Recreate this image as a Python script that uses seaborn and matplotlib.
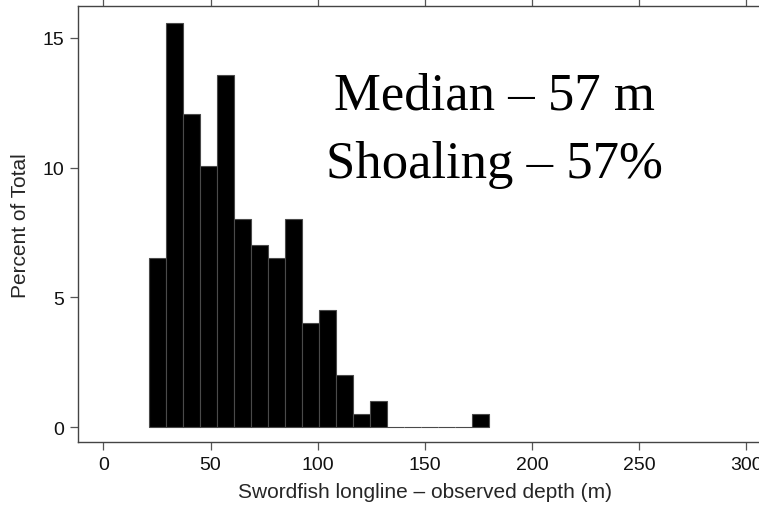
import numpy as np
import pandas as pd
import matplotlib
matplotlib.use("Agg")
import matplotlib.pyplot as plt
import seaborn as sns

# Percent of total sets per depth bin (20 equal-width bins)
depth_min = 21.5
depth_max = 179.8
n_bins = 20
percent_of_total = [6.53, 15.58, 12.06, 10.05, 13.57, 8.04, 7.04, 6.53, 8.04, 4.02,
                    4.52, 2.01, 0.50, 1.01, 0.0, 0.0, 0.0, 0.0, 0.0, 0.50]
x_ticks = [0, 50, 100, 150, 200, 250, 300]
y_ticks = [0, 5, 10, 15]
note_lines = ["Median – 57 m", "Shoaling – 57%"]

edges = np.linspace(depth_min, depth_max, n_bins + 1)
centers = (edges[:-1] + edges[1:]) / 2
df = pd.DataFrame({"depth": centers, "pct": percent_of_total})

sns.set_style("white")
plt.rcParams["font.family"] = ["Liberation Sans", "DejaVu Sans"]

fig = plt.figure(figsize=(7.59, 5.06), dpi=100)
ax = fig.add_axes([0.1024, 0.1239, 0.9144, 0.8617])

sns.histplot(data=df, x="depth", weights="pct", bins=n_bins,
             binrange=(depth_min, depth_max), ax=ax,
             color="black", alpha=1.0, edgecolor="#4a4a4a", linewidth=0.8,
             stat="count")

ax.set_xlim(-12, 312)
ax.set_ylim(-0.58, 16.22)
ax.set_xticks(x_ticks)
ax.set_yticks(y_ticks)
ax.set_xticklabels([str(t) for t in x_ticks], fontsize=14)
ax.set_yticklabels([str(t) for t in y_ticks], fontsize=14)
ax.set_xlabel("Swordfish longline – observed depth (m)", fontsize=15, labelpad=6)
ax.set_ylabel("Percent of Total", fontsize=15, labelpad=9)

for side in ["left", "bottom", "top", "right"]:
    ax.spines[side].set_visible(True)
    ax.spines[side].set_color("#444444")
    ax.spines[side].set_linewidth(1.0)
ax.tick_params(axis="both", which="major", direction="out", length=6, width=0.9,
               color="#555555", labelcolor="#111111", pad=4,
               top=True, right=True, bottom=True, left=True)

# Summary statistics written inside the panel
ax.text(182.5, 12.27, note_lines[0], ha="center", va="baseline",
        fontsize=38, family="Liberation Serif", color="black")
ax.text(182.5, 9.63, note_lines[1], ha="center", va="baseline",
        fontsize=38, family="Liberation Serif", color="black")

fig.savefig("out.png", dpi=100)
